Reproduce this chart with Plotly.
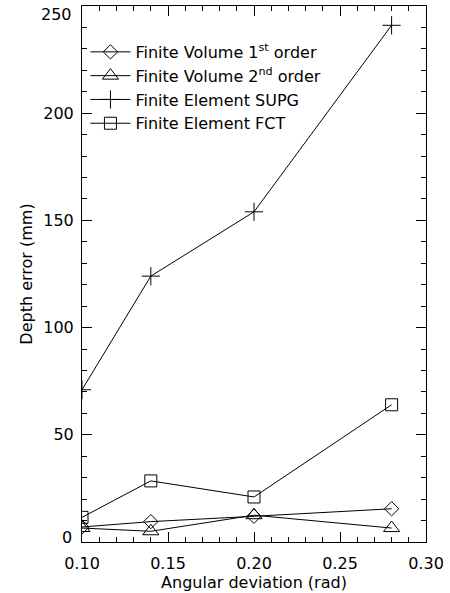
import plotly.graph_objects as go

x = [0.10, 0.14, 0.20, 0.28]
fv1 = [7.0, 9.5, 12.0, 15.5]
fv2 = [6.5, 5.0, 12.5, 6.5]
supg = [71.0, 124.0, 154.0, 241.0]
fct = [11.5, 28.5, 21.0, 64.0]

names = ["Finite Volume 1<sup>st</sup> order", "Finite Volume 2<sup>nd</sup> order",
         "Finite Element SUPG", "Finite Element FCT"]
series = [fv1, fv2, supg, fct]
symbols = ["diamond-open", "triangle-up-open", "cross-thin-open", "square-open"]
sizes = [11, 14, 13, 12]

xticks = [0.10, 0.15, 0.20, 0.25, 0.30]
xticklabels = ["0.10", "0.15", "0.20", "0.25", "0.30"]
yticks = [0, 50, 100, 150, 200, 250]
yticklabels = ["0", "50", "100", "150", "200", "250"]

fig = go.Figure()
for i, (n, s, sym, sz) in enumerate(zip(names, series, symbols, sizes)):
    fig.add_trace(go.Scatter(x=x, y=s, name=n, mode="lines+markers",
                             legendgroup=f"g{i}",
                             line=dict(color="black", width=1),
                             marker=dict(symbol=sym, size=sz, color="black",
                                         line=dict(color="black", width=1))))
# invisible trace to drive the mirrored (top/right) axes
fig.add_trace(go.Scatter(x=x, y=supg, xaxis="x2", yaxis="y2", mode="markers",
                         marker=dict(opacity=0), showlegend=False, hoverinfo="skip"))

font = dict(family="DejaVu Sans", size=16, color="black")
axcommon = dict(ticks="inside", ticklen=10, tickcolor="black", tickwidth=1,
                showline=True, linecolor="black", linewidth=1,
                showgrid=False, zeroline=False)

# end labels drawn as annotations (IDL shifts them inward)
end_labels = {0: yticklabels[0], 250: yticklabels[-1]}
ytext = [("" if v in end_labels else t) for v, t in zip(yticks, yticklabels)]

fig.update_layout(
    width=450, height=593,
    margin=dict(l=82, r=19, t=6, b=51),
    paper_bgcolor="white", plot_bgcolor="white",
    font=font,
    showlegend=True,
    legend=dict(x=0.01, y=0.946, xanchor="left", yanchor="top",
                bgcolor="rgba(0,0,0,0)", font=font, itemwidth=40,
                tracegroupgap=0),
    xaxis=dict(range=[0.10, 0.30], tickvals=xticks, ticktext=xticklabels,
               minor=dict(dtick=0.01, ticks="inside", ticklen=5, tickcolor="black"),
               ticklabelstandoff=7,
               title=dict(text="Angular deviation (rad)", font=font, standoff=2),
               **axcommon),
    yaxis=dict(range=[0, 250], tickvals=yticks, ticktext=ytext,
               minor=dict(dtick=10, ticks="inside", ticklen=5, tickcolor="black"),
               ticklabelstandoff=4,
               title=dict(text="Depth error (mm)", font=font, standoff=6),
               **axcommon),
    xaxis2=dict(range=[0.10, 0.30], overlaying="x", side="top", tickvals=xticks,
                showticklabels=False,
                minor=dict(dtick=0.01, ticks="inside", ticklen=5, tickcolor="black"),
                **axcommon),
    yaxis2=dict(range=[0, 250], overlaying="y", side="right", tickvals=yticks,
                showticklabels=False,
                minor=dict(dtick=10, ticks="inside", ticklen=5, tickcolor="black"),
                **axcommon),
)
for v, t in end_labels.items():
    fig.add_annotation(x=0, xref="paper", y=v, yref="y", text=t, showarrow=False,
                       xanchor="right", xshift=-8, yshift=(-8 if v == 250 else 5),
                       font=font)
fig.write_html("out.html")
